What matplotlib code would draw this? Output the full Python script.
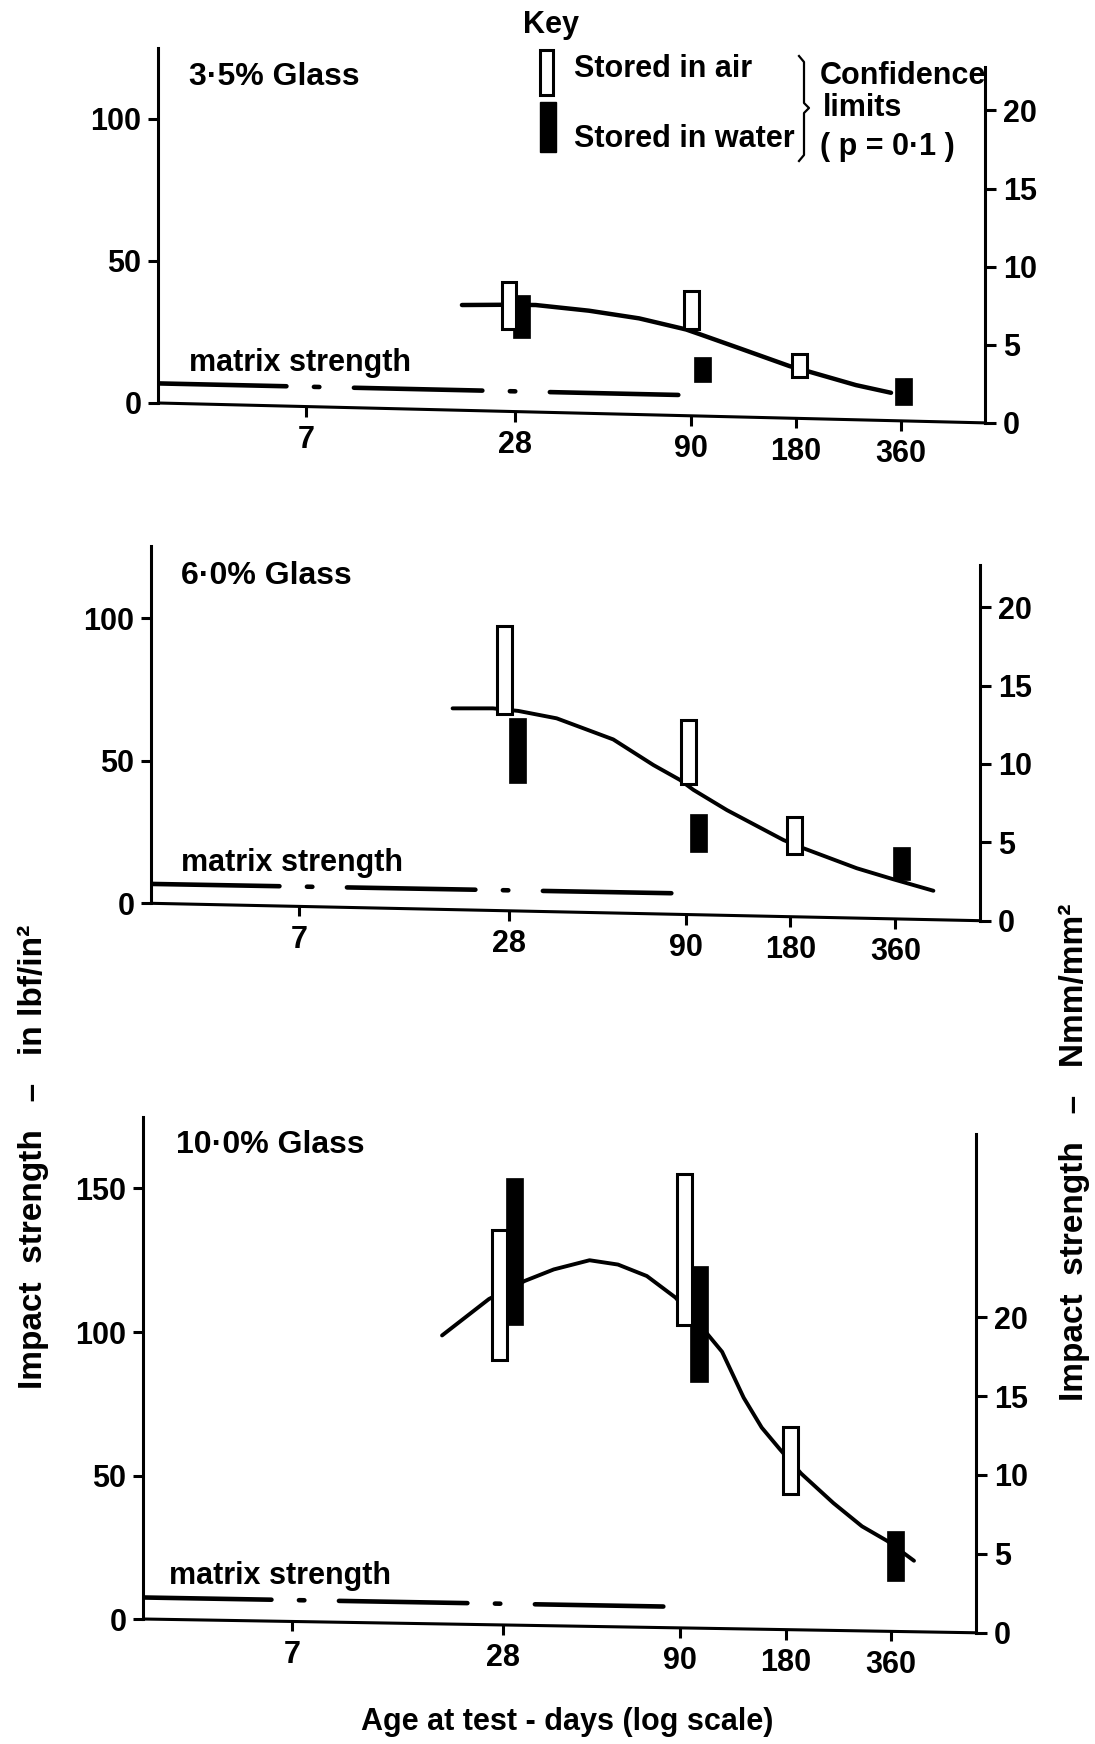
import numpy as np
import matplotlib
matplotlib.use('Agg')
import matplotlib.pyplot as plt
from matplotlib.patches import Rectangle
from matplotlib.lines import Line2D

plt.rcParams['font.family'] = ['Liberation Sans', 'DejaVu Sans']
plt.rcParams['font.weight'] = 'bold'
plt.rcParams['lines.scale_dashes'] = False

W, H = 1095, 1744

# x axis (days, log scale)
x_ticks = [7, 28, 90, 180, 360]
x_lim = (2.63, 630)

# values in lbf/in^2 (right axis: Nmm/mm^2)
# --- 3.5% glass
p1_air_days = [26.9, 90, 184]
p1_air_lo = [25.9, 25.9, 9.3]
p1_air_hi = [42.7, 39.5, 17.3]
p1_water_days = [29.3, 96.8, 367]
p1_water_lo = [22.8, 7.5, -0.7]
p1_water_hi = [38.0, 16.1, 8.7]
p1_curve_days = [19.7, 27, 32.1, 45.7, 63.7, 86.9, 94.8, 123.7, 172.5, 197, 268, 338]
p1_curve_val = [34.5, 34.6, 34.5, 32.5, 29.8, 25.9, 24.3, 19.3, 13.0, 11.0, 6.3, 3.6]
p1_matrix_days = [2.63, 85]
p1_matrix_val = [6.9, 2.8]

# --- 6.0% glass
p2_air_days = [27.2, 91.5, 184.5]
p2_air_lo = [66.4, 41.9, 17.2]
p2_air_hi = [97.3, 64.3, 30.2]
p2_water_days = [29.7, 97.8, 374]
p2_water_lo = [42.1, 17.9, 8.2]
p2_water_hi = [64.9, 31.3, 19.6]
p2_curve_days = [19.3, 25.2, 29.8, 38.4, 55.8, 72.8, 86.7, 94.8, 118.3, 171.9, 196.3, 279, 356, 463]
p2_curve_val = [68.4, 68.4, 67.5, 64.9, 57.5, 48.5, 43.3, 39.8, 32.7, 22.2, 19.3, 12.3, 8.4, 4.4]
p2_matrix_days = [2.63, 85.2]
p2_matrix_val = [6.8, 3.5]

# --- 10.0% glass
p3_air_days = [27.4, 92.7, 186]
p3_air_lo = [90.2, 102.4, 43.7]
p3_air_hi = [135.5, 155, 66.8]
p3_water_days = [30.3, 101.9, 372]
p3_water_lo = [102.4, 82.6, 13.2]
p3_water_hi = [153.5, 122.9, 30.8]
p3_curve_days = [18.8, 25.6, 32.4, 39.2, 49.6, 59.8, 72.3, 87.3, 105.5, 118.6, 136.7,
                 153.9, 173, 199.4, 246.6, 297.6, 351.4, 419]
p3_curve_val = [98.8, 111.5, 117.8, 121.8, 125, 123.5, 119.5, 112, 100.6, 93.1, 77.1,
                66.7, 59.3, 50.7, 40.4, 32.3, 27.2, 20.3]
p3_matrix_days = [2.63, 84.7]
p3_matrix_val = [7.5, 4.3]

K = 5.5  # lbf/in^2 per Nmm/mm^2 on the page


def fx(px):
    return px / W


def fy(py):
    return 1 - py / H


fig = plt.figure(figsize=(W / 100, H / 100), dpi=100)


def panel(left_px, right_px, zero_px, ppu, ytop, rtop, tilt, lticks, lw_curve,
          air, water, curve, matrix, title, title_xy, matrix_xy):
    ylo = -8
    bottom_px = zero_px - ylo * ppu
    height_px = (ytop - ylo) * ppu
    ax = fig.add_axes([fx(left_px), fy(bottom_px), (right_px - left_px) / W, height_px / H])
    ax.set_xscale('log')
    ax.set_xlim(x_lim)
    ax.set_ylim(ylo, ytop)
    ax.patch.set_visible(False)
    for s in ['top', 'right', 'bottom']:
        ax.spines[s].set_visible(False)
    ax.spines['left'].set_bounds(0, ytop)
    ax.spines['left'].set_linewidth(2.2)
    ax.xaxis.set_major_locator(plt.NullLocator())
    ax.xaxis.set_minor_locator(plt.NullLocator())
    ax.set_yticks(lticks)
    ax.tick_params(axis='y', direction='out', length=7, width=2.2, labelsize=22, pad=5)

    tw = ax.twinx()
    tw.set_ylim((ylo + tilt) / K, (ytop + tilt) / K)
    for s in ['top', 'left', 'bottom']:
        tw.spines[s].set_visible(False)
    tw.spines['right'].set_bounds(0, (rtop + tilt) / K)
    tw.spines['right'].set_linewidth(2.2)
    tw.set_yticks([0, 5, 10, 15, 20])
    tw.tick_params(axis='y', direction='out', length=8, width=2.2, labelsize=22, pad=5)

    # tilted base line with its ticks
    ax.plot(x_lim, [0, -tilt], color='k', lw=2.2, solid_capstyle='butt', clip_on=False)
    span = np.log10(x_lim[1]) - np.log10(x_lim[0])
    for t in x_ticks:
        yb = -tilt * (np.log10(t) - np.log10(x_lim[0])) / span
        ax.plot([t], [yb], marker=3, ms=7, mew=2.2, color='k', clip_on=False)
        ax.annotate(str(t), (t, yb), xytext=(0, -24), textcoords='offset points',
                    ha='center', va='center', fontsize=22, fontweight='bold')

    ax.plot(matrix[0], matrix[1], color='k', lw=3.3, dashes=[92.5, 19.8, 3.9, 24.9],
            dash_capstyle='round', zorder=2)
    ax.plot(curve[0], curve[1], color='k', lw=lw_curve, solid_capstyle='round',
            solid_joinstyle='round', zorder=2)

    half_air = 0.0215
    half_w = 0.0245
    for d, lo, hi in zip(*water):
        l, r = d * 10 ** -half_w, d * 10 ** half_w
        ax.bar(l, hi - lo, width=r - l, bottom=lo, align='edge', color='k',
               edgecolor='k', lw=0.5, zorder=3)
    for d, lo, hi in zip(*air):
        l, r = d * 10 ** -half_air, d * 10 ** half_air
        ax.bar(l, hi - lo, width=r - l, bottom=lo, align='edge', color='white',
               edgecolor='k', lw=2.2, zorder=4)

    fig.text(fx(title_xy[0]), fy(title_xy[1]), title, fontsize=23, ha='left', va='center')
    fig.text(fx(matrix_xy[0]), fy(matrix_xy[1]), 'matrix strength', fontsize=22,
             ha='left', va='center')
    return ax


panel(158, 985, 403, 2.84, 125, 118.3, 7.0, [0, 50, 100], 3.2,
      (p1_air_days, p1_air_lo, p1_air_hi), (p1_water_days, p1_water_lo, p1_water_hi),
      (p1_curve_days, p1_curve_val), (p1_matrix_days, p1_matrix_val),
      '3·5% Glass', (189, 77), (189, 363))
panel(151, 980, 903.3, 2.85, 125.2, 118.8, 6.1, [0, 50, 100], 2.8,
      (p2_air_days, p2_air_lo, p2_air_hi), (p2_water_days, p2_water_lo, p2_water_hi),
      (p2_curve_days, p2_curve_val), (p2_matrix_days, p2_matrix_val),
      '6·0% Glass', (181, 576), (181, 863))
panel(143, 976, 1619, 2.87, 175, 169, 4.8, [0, 50, 100, 150], 2.8,
      (p3_air_days, p3_air_lo, p3_air_hi), (p3_water_days, p3_water_lo, p3_water_hi),
      (p3_curve_days, p3_curve_val), (p3_matrix_days, p3_matrix_val),
      '10·0% Glass', (176, 1145), (169, 1576))

# key
fig.text(fx(551), fy(25), 'Key', fontsize=22, ha='center', va='center')
fig.add_artist(Rectangle((fx(540), fy(95)), 13 / W, 45 / H, transform=fig.transFigure,
                         facecolor='white', edgecolor='k', lw=2.2))
fig.add_artist(Rectangle((fx(540), fy(152)), 16 / W, 50 / H, transform=fig.transFigure,
                         facecolor='k', edgecolor='k', lw=1))
fig.text(fx(574), fy(69), 'Stored in air', fontsize=22, ha='left', va='center')
fig.text(fx(574), fy(139), 'Stored in water', fontsize=22, ha='left', va='center')
bx = [799, 804, 804, 809, 804, 804, 799]
by = [56, 62, 103, 108, 113, 155, 161]
fig.add_artist(Line2D([fx(v) for v in bx], [fy(v) for v in by], transform=fig.transFigure,
                      color='k', lw=1.6))
fig.text(fx(820), fy(76), 'Confidence', fontsize=22, ha='left', va='center')
fig.text(fx(823), fy(108), 'limits', fontsize=22, ha='left', va='center')
fig.text(fx(820), fy(147), '( p = 0·1 )', fontsize=22, ha='left', va='center')

# axis titles
fig.text(fx(567), fy(1722), 'Age at test - days (log scale)', fontsize=22,
         ha='center', va='center')
fig.text(fx(33), fy(1157), 'Impact  strength   –   in lbf/in²', fontsize=24,
         rotation=90, ha='center', va='center')
fig.text(fx(1074), fy(1152), 'Impact  strength   –   Nmm/mm²', fontsize=24,
         rotation=90, ha='center', va='center')

fig.savefig('out.png', dpi=100, facecolor='white')
